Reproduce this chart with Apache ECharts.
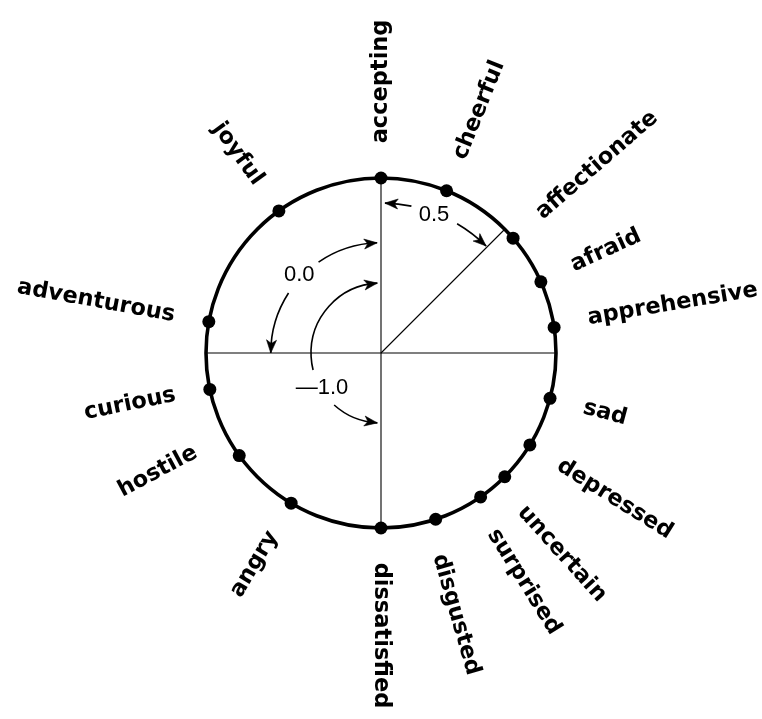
<!DOCTYPE html>
<html><head><meta charset="utf-8">
<script src="https://cdn.jsdelivr.net/npm/echarts@6/dist/echarts.min.js"></script>
<style>html,body{margin:0;padding:0;background:#fff;}#c{width:762px;height:719px;}</style>
</head><body><div id="c"></div>
<script>
// emotion terms placed on the circle (angle = degrees clockwise from top)
const emotions = ['accepting','cheerful','affectionate','afraid','apprehensive','sad','depressed','uncertain','surprised','disgusted','dissatisfied','angry','hostile','curious','adventurous','joyful'];
const angles = [0, 22, 49, 66, 81.6, 105, 121.7, 135, 145.3, 161.8, 180, 210.9, 234.1, 258, 280.3, 324.3];
const labelAngles = [0, 22, 49, 65.5, 80.5, 105, 122, 138, 148, 164, 180, 210.9, 242, 258.5, 280.3, 324.3];
const circleRadius = 1;
const labelRadius = 1.198;
// diagonal radius line
const diagonalAngle = 45;
// annotated arcs (angle values, negative = counter-clockwise from top)
const arcText = ['0.5', '0.0', '\u20141.0'];
const arcRadius = [0.857, 0.63, 0.40];
const arcFrom = [1.5, -2, -3];
const arcTo = [44.5, -90, -177];
const arcGapFrom = [11.7, -34.5, -104];
const arcGapTo = [30.5, -57, -138];
const arcTextAngle = [21, -46.3, -120.7];
const arcTextRadius = [0.846, 0.646, 0.392];

const norm = a => ((a % 360) + 360) % 360;

const chart = echarts.init(document.getElementById('c'), null, {renderer: 'canvas'});

const labelData = emotions.map((n, i) => {
  const a = labelAngles[i];
  const right = a <= 180;
  return {
    name: n,
    value: [labelRadius, a],
    label: { rotate: right ? 90 - a : 270 - a, align: right ? 'left' : 'right' }
  };
});

chart.setOption({
  animation: false,
  backgroundColor: '#fff',
  polar: { center: [381, 353], radius: 175 },
  angleAxis: {
    type: 'value', min: 0, max: 360, interval: 90, startAngle: 90, clockwise: true,
    axisLine: { show: true, lineStyle: { color: '#000', width: 3.6 } },
    axisTick: { show: false }, axisLabel: { show: false },
    splitLine: { show: true, lineStyle: { color: '#000', width: 1.1 } }
  },
  radiusAxis: {
    type: 'value', min: 0, max: 1, show: false,
    axisLine: { show: false }, axisTick: { show: false }, axisLabel: { show: false },
    splitLine: { show: false }
  },
  series: [
    {
      type: 'line', coordinateSystem: 'polar', symbol: 'none', silent: true,
      data: [[0, diagonalAngle], [circleRadius, diagonalAngle]],
      lineStyle: { color: '#000', width: 1.1 }
    },
    {
      type: 'scatter', coordinateSystem: 'polar', clip: false, silent: true,
      symbol: 'circle', symbolSize: 13,
      itemStyle: { color: '#000', opacity: 1 },
      data: angles.map(a => [circleRadius, a])
    },
    {
      type: 'scatter', coordinateSystem: 'polar', clip: false, silent: true,
      symbolSize: 1, itemStyle: { color: 'rgba(0,0,0,0)', opacity: 1 },
      data: labelData,
      label: {
        show: true, position: 'inside', distance: 0, verticalAlign: 'middle',
        formatter: p => p.name, opacity: 1,
        color: '#000', fontFamily: 'DejaVu Sans', fontWeight: 'bold', fontSize: 22.5
      }
    },
    {
      type: 'custom', coordinateSystem: 'polar', silent: true,
      data: arcText.map((t, i) => [arcRadius[i], norm(arcFrom[i])]),
      renderItem: (params, api) => {
        const i = params.dataIndex;
        const c = api.coord([0, 0]);
        const pt = (r, a) => api.coord([r, norm(a)]);
        const ang = (r, a) => { const p = pt(r, a); return Math.atan2(p[1] - c[1], p[0] - c[0]); };
        const r = arcRadius[i];
        const p0 = pt(r, 0);
        const rpx = Math.hypot(p0[0] - c[0], p0[1] - c[1]);
        const children = [];
        const segs = [[arcFrom[i], arcGapFrom[i]], [arcGapTo[i], arcTo[i]]];
        segs.forEach(s => {
          children.push({
            type: 'arc',
            shape: { cx: c[0], cy: c[1], r: rpx, startAngle: ang(r, s[0]), endAngle: ang(r, s[1]), clockwise: s[1] > s[0] },
            style: { stroke: '#000', lineWidth: 1.6, fill: null }
          });
        });
        const sign = Math.sign(arcTo[i] - arcFrom[i]);
        const L = 13, W = 5, N = 3.5;
        const dDeg = L / rpx * 180 / Math.PI;
        const heads = [[arcFrom[i], arcFrom[i] + sign * dDeg], [arcTo[i], arcTo[i] - sign * dDeg]];
        heads.forEach(h => {
          const T = pt(r, h[0]);
          const B = pt(r, h[1]);
          let ux = T[0] - B[0], uy = T[1] - B[1];
          const len = Math.hypot(ux, uy); ux /= len; uy /= len;
          const nx = -uy, ny = ux;
          children.push({
            type: 'polygon',
            shape: { points: [T, [B[0] + nx * W, B[1] + ny * W], [B[0] + ux * N, B[1] + uy * N], [B[0] - nx * W, B[1] - ny * W]] },
            style: { fill: '#000', stroke: '#000', lineWidth: 0.6 }
          });
        });
        const tp = pt(arcTextRadius[i], arcTextAngle[i]);
        children.push({
          type: 'text', x: tp[0], y: tp[1],
          style: { text: arcText[i], fill: '#000', font: '22px "Liberation Sans", Arial, sans-serif', align: 'center', verticalAlign: 'middle' }
        });
        return { type: 'group', children };
      }
    }
  ]
});
</script>
</body></html>
